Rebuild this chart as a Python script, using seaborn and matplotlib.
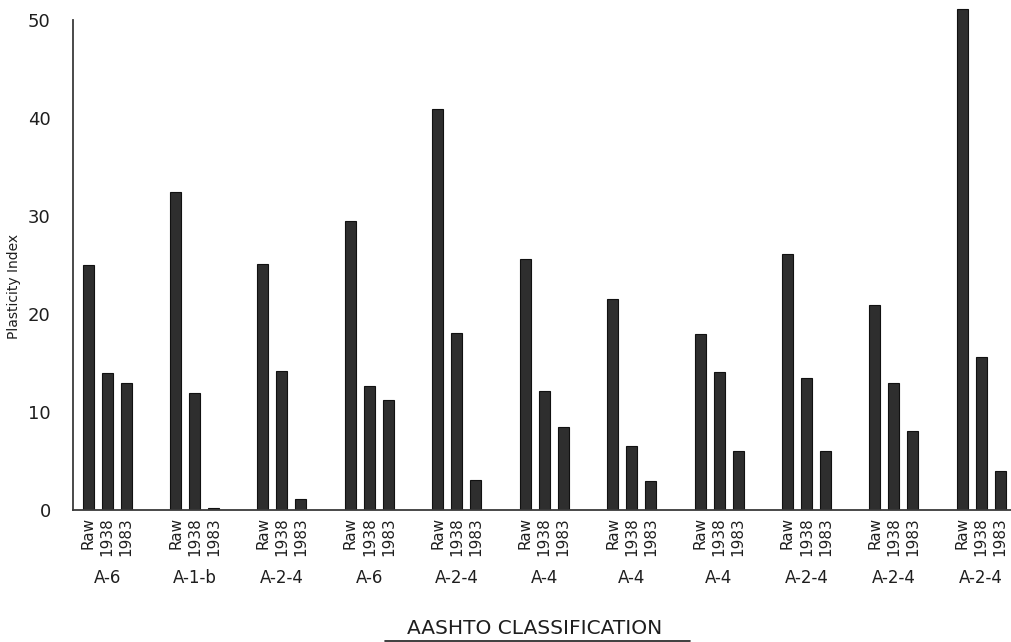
import numpy as np
import pandas as pd
import matplotlib
matplotlib.use("Agg")
import matplotlib.pyplot as plt
import matplotlib.transforms as mtransforms
from matplotlib.lines import Line2D
import seaborn as sns

# ---- data ----
samples = [f"S{i}" for i in range(1, 12)]
classes = ["A-6", "A-1-b", "A-2-4", "A-6", "A-2-4", "A-4", "A-4", "A-4", "A-2-4", "A-2-4", "A-2-4"]
treatments = ["Raw", "1938", "1983"]
raw = [25.0, 32.4, 25.1, 29.5, 40.9, 25.6, 21.5, 18.0, 26.1, 20.9, 51.1]
pi_1938 = [14.0, 11.9, 14.2, 12.7, 18.1, 12.1, 6.5, 14.1, 13.5, 13.0, 15.6]
pi_1983 = [13.0, 0.25, 1.1, 11.2, 3.1, 8.5, 3.0, 6.0, 6.0, 8.1, 4.0]
yticks = [0, 10, 20, 30, 40, 50]

df = pd.DataFrame({
    "sample": samples * 3,
    "treatment": sum([[t] * len(samples) for t in treatments], []),
    "pi": raw + pi_1938 + pi_1983,
})

sns.set_theme(style="white")
plt.rcParams["font.family"] = ["DejaVu Sans"]
ink = "#1e1e1e"

fig = plt.figure(figsize=(10.11, 6.42), dpi=100)
ax = fig.add_axes([73 / 1011, 132 / 642, 938 / 1011, 509.6 / 642])

sns.barplot(data=df, x="sample", y="pi", hue="treatment", order=samples,
            hue_order=treatments, palette=["#2e2e2e"] * 3, width=0.652, gap=0.42,
            edgecolor="#111111", linewidth=0.8, legend=False, ax=ax)

ax.set_ylim(0, 52)
ax.set_xlim(-0.39, 10.34)
ax.set_yticks(yticks)
ax.set_yticklabels([str(v) for v in yticks], fontsize=13, color=ink)
ax.tick_params(axis="y", direction="in", length=9, width=1.2, color=ink, pad=16)

for s in ["top", "right"]:
    ax.spines[s].set_visible(False)
ax.spines["left"].set_bounds(0, 50)
for s in ["left", "bottom"]:
    ax.spines[s].set_color("#3a3a3a")
    ax.spines[s].set_linewidth(1.3)

# tick labels under each bar (Raw / 1938 / 1983)
pos, labs = [], []
for cont, t in zip(ax.containers, treatments):
    for p in cont.patches:
        pos.append(p.get_x() + p.get_width() / 2)
        labs.append(t)
ax.set_xticks(pos)
ax.set_xticklabels(labs, rotation=90, fontsize=11, color=ink, va="top", ha="center")
ax.tick_params(axis="x", length=0, pad=5)
ax.set_xlabel("")

# group labels
trans = mtransforms.blended_transform_factory(ax.transData, ax.transAxes)
for i, c in enumerate(classes):
    ax.text(i, -0.133, c, transform=trans, ha="center", va="center", fontsize=12, color=ink)

ax.set_ylabel("Plasticity Index", fontsize=10, color=ink)
ax.yaxis.set_label_coords(-0.055, 0.438)

fig.text(535 / 1011, 0.006, "AASHTO CLASSIFICATION", ha="center", va="bottom", fontsize=14.5, color=ink)
fig.add_artist(Line2D([385 / 1011, 690 / 1011], [0.002, 0.002], transform=fig.transFigure,
                      color=ink, linewidth=1.2))

fig.savefig("out.png", dpi=100)
